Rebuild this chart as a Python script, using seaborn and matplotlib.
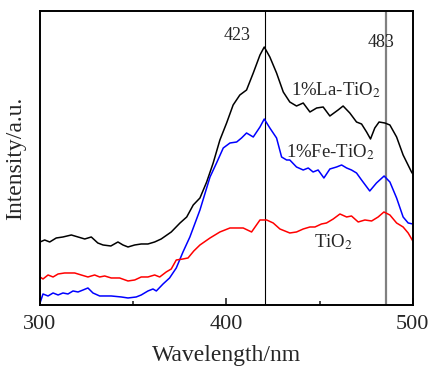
import pandas as pd
import seaborn as sns
import matplotlib.pyplot as plt

# wavelength (nm) and intensity (arbitrary units)
la_wl = [300, 302.5, 305.2, 308.7, 312.3, 316.8, 320.4, 324, 327.5, 331, 333.8, 338, 341.8, 344.5,
         347.2, 350.8, 354.3, 357.9, 361.5, 365, 370.4, 375.1, 378.7, 382.2, 385.8, 389.4, 392.9,
         396.5, 400.1, 403.6, 407.2, 410.8, 414.4, 418, 420.3, 423.3, 426.9, 430.5, 434, 437.6,
         441.2, 444.8, 448.4, 451.9, 455.5, 459.9, 462.6, 466.2, 469.8, 472.5, 475.2, 477.3, 479.6,
         481.9, 485, 487.7, 491.3, 494.8, 499.3, 500]
la_int = [63, 65, 63, 67, 68, 70, 68, 66, 68, 62, 60, 59, 63, 60,
          58, 60, 61, 61, 63, 66, 73, 82, 88, 100, 107, 123, 142,
          165, 182, 200, 210, 215, 232, 250, 258, 248, 232, 213, 203, 199,
          202, 193, 197, 198, 189, 195, 199, 192, 183, 181, 173, 166, 177,
          183, 182, 180, 168, 150, 133, 131]

fe_wl = [300, 301.6, 304.3, 307, 309.7, 312.3, 315, 317.7, 320.4, 323.1, 325.7, 328.4, 332, 338.2,
         343.6, 347.2, 351.6, 354.3, 357.9, 360.6, 362.4, 366, 369.5, 373.1, 376.7, 380.4, 385.8,
         391.2, 394.7, 398.3, 401.9, 405.5, 408.1, 410.8, 414.4, 418, 420.3, 423.3, 426.9, 429.6,
         432.3, 434, 437.6, 441.2, 443.9, 446.5, 449.2, 452.3, 455.5, 459.1, 461.8, 464.5, 467.1,
         469.8, 472.5, 476.9, 480.5, 484.6, 487.7, 491.3, 494.8, 497.5, 500]
fe_int = [2, 11, 9, 12, 10, 12, 11, 14, 13, 15, 17, 12, 9, 9,
          8, 7, 8, 10, 14, 16, 14, 21, 27, 37, 53, 68, 95,
          128, 142, 157, 162, 163, 167, 172, 168, 178, 186, 177, 167, 148,
          145, 145, 138, 135, 137, 133, 135, 127, 136, 138, 140, 137, 135,
          132, 125, 114, 122, 129, 123, 107, 88, 82, 81]

ti_wl = [300, 301.6, 304.3, 307, 309.7, 313.2, 318.6, 322.1, 325.7, 329.3, 332, 334.7, 338.2, 342.7,
         347.2, 350.8, 354.3, 357.9, 361.5, 364.2, 367.7, 370.4, 373.1, 376.7, 379.4, 382.5, 385.8,
         391.2, 396.5, 401.9, 409, 413.5, 418, 421.6, 425.1, 428.7, 434, 437.6, 441.2, 444.8,
         447.5, 451, 453.7, 457.3, 460.9, 464.5, 467.1, 470.7, 474.3, 477.9, 481.4, 484.5, 487.7,
         491.3, 494.8, 497.5, 500]
ti_int = [28, 26, 30, 28, 31, 32, 32, 30, 28, 30, 28, 29, 27, 27,
          24, 25, 28, 28, 30, 28, 33, 36, 45, 46, 47, 54, 60,
          67, 73, 77, 77, 73, 85, 85, 82, 76, 72, 73, 76, 78,
          78, 81, 82, 86, 91, 88, 89, 83, 85, 84, 88, 93, 90,
          82, 78, 72, 64]

series_names = ['1%La-TiO$_2$', '1%Fe-TiO$_2$', 'TiO$_2$']
series_colors = ['black', 'blue', 'red']
peak_marks = [420.5, 485.5]
peak_labels = ['423', '483']

frames = []
for name, wl, val in zip(series_names, [la_wl, fe_wl, ti_wl], [la_int, fe_int, ti_int]):
    frames.append(pd.DataFrame({'wl': wl, 'val': val, 'sample': name}))
df = pd.concat(frames, ignore_index=True)

sns.set_theme(style='ticks')
plt.rcParams['font.family'] = ['Liberation Serif', 'DejaVu Serif']
plt.rcParams['mathtext.fontset'] = 'stix'

fig = plt.figure(figsize=(4.35, 3.67), dpi=100)
ax = fig.add_axes([0.092, 0.169, 0.857, 0.801])

sns.lineplot(data=df, x='wl', y='val', hue='sample', palette=series_colors,
             linewidth=1.1, legend=False, ax=ax, sort=False)

ax.axvline(peak_marks[0], color='black', lw=0.8, zorder=0)
ax.axvline(peak_marks[1], color='gray', lw=1.6, zorder=0)

# annotations
ax.text(406, 270, peak_labels[0], ha='center', va='center', fontsize=13)
ax.text(482.8, 263, peak_labels[1], ha='center', va='center', fontsize=13)
ax.text(459, 215, series_names[0], ha='center', va='center', fontsize=13.5)
ax.text(456, 153, series_names[1], ha='center', va='center', fontsize=13.5)
ax.text(457.4, 63, series_names[2], ha='center', va='center', fontsize=13.5)

ax.set_xlim(300, 500)
ax.set_ylim(0, 294)
ax.set_xticks([300, 400, 500])
ax.set_xticks([350, 450], minor=True)
ax.set_yticks([])
ax.tick_params(axis='x', which='major', direction='in', length=5, width=1.2, labelsize=16, pad=7)
ax.tick_params(axis='x', which='minor', direction='in', length=3, width=1.2)
for s in ax.spines.values():
    s.set_linewidth(1.4)
    s.set_color('black')

ax.set_xlabel('Wavelength/nm', fontsize=17, labelpad=8)
ax.set_ylabel('Intensity/a.u.', fontsize=17, labelpad=10)

fig.savefig('out.png', dpi=100)
